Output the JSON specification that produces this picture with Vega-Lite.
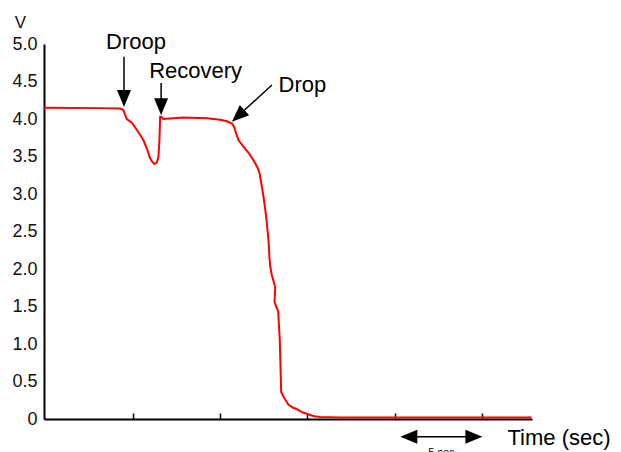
{
  "$schema": "https://vega.github.io/schema/vega-lite/v6.json",
  "width": 488,
  "height": 375,
  "autosize": "none",
  "padding": {"left": 44, "top": 44, "right": 89, "bottom": 33},
  "background": "white",
  "config": {"view": {"stroke": null}, "font": "Liberation Sans", "axisY": {"labelOverlap": false}},
  "datasets": {
    "curve": [
      {"i": 0, "x": -0.08, "y": 4.15},
      {"i": 1, "x": 3.13, "y": 4.145},
      {"i": 2, "x": 4.28, "y": 4.14},
      {"i": 3, "x": 4.46, "y": 4.12},
      {"i": 4, "x": 4.66, "y": 4.0},
      {"i": 5, "x": 4.95, "y": 3.95},
      {"i": 6, "x": 5.25, "y": 3.85},
      {"i": 7, "x": 5.61, "y": 3.72},
      {"i": 8, "x": 5.82, "y": 3.6},
      {"i": 9, "x": 5.99, "y": 3.48},
      {"i": 10, "x": 6.11, "y": 3.43},
      {"i": 11, "x": 6.24, "y": 3.4},
      {"i": 12, "x": 6.37, "y": 3.42},
      {"i": 13, "x": 6.47, "y": 3.49},
      {"i": 14, "x": 6.53, "y": 3.72},
      {"i": 15, "x": 6.57, "y": 4.03},
      {"i": 16, "x": 6.62, "y": 4.03},
      {"i": 17, "x": 6.76, "y": 4.0},
      {"i": 18, "x": 7.9, "y": 4.02},
      {"i": 19, "x": 9.24, "y": 4.01},
      {"i": 20, "x": 10.01, "y": 3.99},
      {"i": 21, "x": 10.39, "y": 3.97},
      {"i": 22, "x": 10.68, "y": 3.94},
      {"i": 23, "x": 10.81, "y": 3.89},
      {"i": 24, "x": 10.92, "y": 3.81},
      {"i": 25, "x": 11.05, "y": 3.72},
      {"i": 26, "x": 11.34, "y": 3.63},
      {"i": 27, "x": 11.63, "y": 3.55},
      {"i": 28, "x": 11.91, "y": 3.45},
      {"i": 29, "x": 12.13, "y": 3.36},
      {"i": 30, "x": 12.26, "y": 3.28},
      {"i": 31, "x": 12.38, "y": 3.12},
      {"i": 32, "x": 12.49, "y": 2.96},
      {"i": 33, "x": 12.59, "y": 2.79},
      {"i": 34, "x": 12.68, "y": 2.61},
      {"i": 35, "x": 12.77, "y": 2.39},
      {"i": 36, "x": 12.83, "y": 2.15},
      {"i": 37, "x": 12.87, "y": 2.04},
      {"i": 38, "x": 12.96, "y": 1.92},
      {"i": 39, "x": 13.16, "y": 1.76},
      {"i": 40, "x": 13.12, "y": 1.56},
      {"i": 41, "x": 13.33, "y": 1.43},
      {"i": 42, "x": 13.42, "y": 1.05},
      {"i": 43, "x": 13.5, "y": 0.36},
      {"i": 44, "x": 13.67, "y": 0.28},
      {"i": 45, "x": 13.92, "y": 0.19},
      {"i": 46, "x": 14.19, "y": 0.15},
      {"i": 47, "x": 14.4, "y": 0.13},
      {"i": 48, "x": 14.71, "y": 0.09},
      {"i": 49, "x": 15.07, "y": 0.06},
      {"i": 50, "x": 15.39, "y": 0.036},
      {"i": 51, "x": 15.74, "y": 0.027},
      {"i": 52, "x": 16.88, "y": 0.02},
      {"i": 53, "x": 27.83, "y": 0.02}
    ],
    "arrows": [
      {"x": 4.5, "y": 4.83, "x2": 4.5, "y2": 4.35},
      {"x": 6.625, "y": 4.48, "x2": 6.625, "y2": 4.25},
      {"x": 12.97, "y": 4.453, "x2": 11.31, "y2": 4.1},
      {"x": 20.6, "y": -0.236, "x2": 24.7, "y2": -0.236}
    ],
    "heads": [
      {"x": 4.5, "y": 4.16, "angle": 0},
      {"x": 6.625, "y": 4.05, "angle": 0},
      {"x": 10.68, "y": 3.964, "angle": 47.5},
      {"x": 20.32, "y": -0.236, "angle": 90},
      {"x": 25.02, "y": -0.236, "angle": -90}
    ],
    "labels": [
      {"x": 3.47, "y": 4.927, "text": "Droop"},
      {"x": 5.94, "y": 4.543, "text": "Recovery"},
      {"x": 13.35, "y": 4.364, "text": "Drop"}
    ],
    "small": [
      {"x": 22.67, "y": -0.373, "text": "5 sec"}
    ]
  },
  "encoding": {
    "x": {
      "field": "x", "type": "quantitative",
      "scale": {"domain": [-0.08, 27.86], "nice": false, "zero": false},
      "axis": {
        "values": [5, 10, 15, 20, 25],
        "labels": false,
        "grid": false,
        "tickSize": -6,
        "tickColor": "black",
        "tickWidth": 1.5,
        "domainColor": "black",
        "domainWidth": 2,
        "title": "Time (sec)",
        "titleFont": "Liberation Sans",
        "titleFontSize": 22,
        "titleFontWeight": "normal",
        "titleColor": "black",
        "titleAlign": "left",
        "titleBaseline": "middle",
        "titleAnchor": null,
        "titleX": 463,
        "titleY": 18
      }
    },
    "y": {
      "field": "y", "type": "quantitative",
      "scale": {"domain": [0, 5], "nice": false},
      "axis": {
        "values": [0, 0.5, 1, 1.5, 2, 2.5, 3, 3.5, 4, 4.5, 5],
        "labelExpr": "datum.value == 0 ? '0' : format(datum.value, '.1f')",
        "labelOverlap": false,
        "grid": false,
        "ticks": false,
        "labelPadding": 7,
        "labelFont": "Liberation Sans",
        "labelFontSize": 18,
        "labelColor": "#111111",
        "domainColor": "black",
        "domainWidth": 2,
        "title": "V",
        "titleFont": "Liberation Sans",
        "titleFontSize": 17,
        "titleFontWeight": "normal",
        "titleColor": "#111111",
        "titleAngle": 0,
        "titleAlign": "center",
        "titleBaseline": "middle",
        "titleAnchor": null,
        "titleX": -24,
        "titleY": -22
      }
    }
  },
  "layer": [
    {
      "data": {"name": "curve"},
      "mark": {"type": "line", "color": "#ff0000", "strokeWidth": 2, "interpolate": "linear"},
      "encoding": {
        "order": {"field": "i", "type": "quantitative"}
      }
    },
    {
      "data": {"name": "arrows"},
      "mark": {"type": "rule", "color": "black", "strokeWidth": 1.5},
      "encoding": {
        "x2": {"field": "x2"},
        "y2": {"field": "y2"}
      }
    },
    {
      "data": {"name": "heads"},
      "mark": {"type": "point", "filled": true, "color": "black", "opacity": 1, "size": 1156, "shape": "M0,0 L-0.41,-1 L0.41,-1 Z", "strokeWidth": 0},
      "encoding": {
        "angle": {"field": "angle", "type": "quantitative", "scale": null}
      }
    },
    {
      "data": {"name": "labels"},
      "mark": {"type": "text", "align": "left", "baseline": "alphabetic", "font": "Liberation Sans", "fontSize": 22, "color": "black"},
      "encoding": {
        "text": {"field": "text"}
      }
    },
    {
      "data": {"name": "small"},
      "mark": {"type": "text", "align": "center", "baseline": "top", "font": "Liberation Sans", "fontSize": 11, "color": "black"},
      "encoding": {
        "text": {"field": "text"}
      }
    }
  ]
}
